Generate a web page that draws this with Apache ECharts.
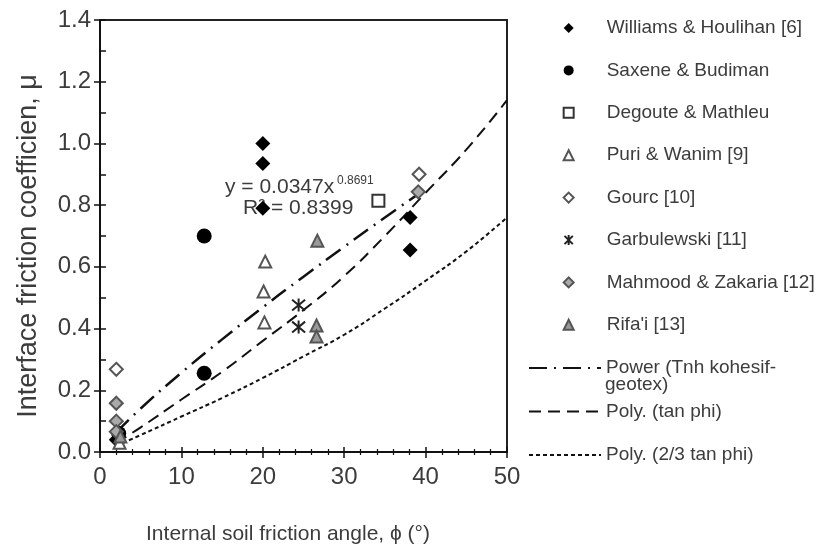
<!DOCTYPE html>
<html>
<head>
<meta charset="utf-8">
<script src="https://cdn.jsdelivr.net/npm/echarts@6/dist/echarts.min.js"></script>
<style>html,body{margin:0;padding:0;background:#fff}#c{width:821px;height:553px}</style>
</head>
<body>
<div id="c"></div>
<script>
// ---- data (x = internal friction angle, y = interface friction coefficient) ----
const williams = [[20, 1.00], [20, 0.935], [20, 0.79], [38.1, 0.76], [38.1, 0.655], [2, 0.04]];
const saxene = [[12.8, 0.70], [12.8, 0.255], [2.3, 0.06]];
const degoute = [[34.2, 0.814]];
const puri = [[20.3, 0.617], [20.1, 0.52], [20.2, 0.42], [2.4, 0.03]];
const gourc = [[2, 0.268], [39.2, 0.90]];
const garbulewski = [[24.4, 0.476], [24.4, 0.405]];
const mahmood = [[2, 0.158], [2, 0.10], [2, 0.066], [39.1, 0.843]];
const rifai = [[26.7, 0.685], [26.6, 0.41], [26.6, 0.374], [2.5, 0.05]];
// trend lines
const powerTrend = [[2, 0.063], [5, 0.141], [10, 0.257], [15, 0.365], [20, 0.469], [25, 0.568], [30, 0.665], [35, 0.760], [39, 0.834]];
const polyTan = [[2, 0.03], [5, 0.08], [10, 0.17], [15, 0.26], [20, 0.36], [25, 0.46], [30, 0.57], [35, 0.70], [40, 0.84], [45, 0.98], [50, 1.14]];
const polyTwoThird = [[2, 0.02], [5, 0.055], [10, 0.115], [15, 0.175], [20, 0.24], [25, 0.31], [30, 0.38], [35, 0.465], [40, 0.555], [45, 0.65], [50, 0.76]];
const xTicks = [0, 10, 20, 30, 40, 50];
const yTicks = [0, 0.2, 0.4, 0.6, 0.8, 1.0, 1.2, 1.4];

const names = ['Williams & Houlihan [6]', 'Saxene & Budiman', 'Degoute & Mathleu', 'Puri & Wanim [9]', 'Gourc [10]', 'Garbulewski [11]', 'Mahmood & Zakaria [12]', "Rifa'i [13]"];
const lineNames = ['Power (Tnh kohesif-geotex)', 'Poly. (tan phi)', 'Poly. (2/3 tan phi)'];

const FONT = 'Liberation Sans, Arial, sans-serif';
const TXT = '#3c3c3c';
const star = 'path://M0,0L10,10M10,0L0,10M5,-1L5,11';

function sc(name, data, symbol, size, fill, border, bw) {
  return {
    type: 'scatter', name, data, symbol, symbolSize: size, z: 5,
    itemStyle: { color: fill, borderColor: border, borderWidth: bw, opacity: 1 }
  };
}
function ln(name, data, type, width) {
  return {
    type: 'line', name, data, symbol: 'none', smooth: true, z: 3,
    itemStyle: { color: '#111' },
    lineStyle: { color: '#111', type, width }
  };
}

const chart = echarts.init(document.getElementById('c'));
const axisCommon = (min, max, interval) => ({
  type: 'value', min, max, interval,
  axisLine: { show: true, onZero: false, lineStyle: { color: '#111', width: 2 } },
  splitLine: { show: false }
});
chart.setOption({
  animation: false,
  backgroundColor: '#fff',
  grid: { left: 100, right: 314, top: 20, bottom: 101, show: true, borderColor: '#222', borderWidth: 2, backgroundColor: 'transparent' },
  xAxis: [
    Object.assign(axisCommon(0, 50, 10), {
      name: 'Internal soil friction angle, \u03d5 (\u00b0)', nameLocation: 'middle', nameGap: 72,
      nameTextStyle: { fontFamily: FONT, fontSize: 21, color: TXT, padding: [0, 31, 0, 0] },
      axisTick: { show: true, inside: false, length: 6, lineStyle: { color: '#111', width: 1.5 } },
      minorTick: { show: true, splitNumber: 5, length: 3, lineStyle: { color: '#111', width: 1.2 } },
      axisLabel: { fontFamily: FONT, fontSize: 24, color: TXT, margin: 13, formatter: v => xTicks.includes(v) ? String(v) : '' }
    }),
    Object.assign(axisCommon(0, 50, 10), {
      position: 'bottom', axisLine: { show: false },
      axisTick: { show: true, inside: true, length: 5, lineStyle: { color: '#111', width: 1.5 } },
      minorTick: { show: true, splitNumber: 5, length: 3, lineStyle: { color: '#111', width: 1.2 } },
      axisLabel: { show: false }
    })
  ],
  yAxis: [
    Object.assign(axisCommon(0, 1.4, 0.2), {
      name: 'Interface friction coefficien, \u03bc', nameLocation: 'middle', nameGap: 58,
      nameTextStyle: { fontFamily: FONT, fontSize: 27, color: TXT, padding: [0, 20, 0, 0] },
      axisTick: { show: true, inside: false, length: 6, lineStyle: { color: '#111', width: 1.5 } },
      minorTick: { show: false },
      axisLabel: { fontFamily: FONT, fontSize: 24, color: TXT, margin: 9, formatter: v => yTicks.some(t => Math.abs(t - v) < 1e-9) ? v.toFixed(1) : '' }
    }),
    Object.assign(axisCommon(0, 1.4, 0.2), {
      position: 'left', axisLine: { show: false },
      axisTick: { show: true, inside: true, length: 6, lineStyle: { color: '#111', width: 1.5 } },
      minorTick: { show: true, splitNumber: 2, length: 6, lineStyle: { color: '#111', width: 1.5 } },
      axisLabel: { show: false }
    })
  ],
  legend: [
    {
      data: names, orient: 'vertical', left: 557, top: 12,
      itemWidth: 10, itemHeight: 10, itemGap: 20.4,
      formatter: n => '{p|}' + n,
      textStyle: { fontFamily: FONT, fontSize: 19, color: TXT, lineHeight: 22, rich: { p: { width: 28 } } },
      selectedMode: false
    },
    {
      data: lineNames, orient: 'vertical', left: 523, top: 352,
      itemWidth: 72, itemHeight: 10, itemGap: 21.5,
      itemStyle: { opacity: 0 },
      formatter: n => n === lineNames[0] ? 'Power (Tnh kohesif-' : n,
      textStyle: { fontFamily: FONT, fontSize: 19, color: TXT, lineHeight: 22 },
      selectedMode: false
    }
  ],
  graphic: [
    { type: 'text', left: 605, top: 375, z: 10, style: { text: 'geotex)', font: '19px ' + FONT, fill: TXT } },
    { type: 'text', left: 225, top: 177, z: 1, style: { text: 'y = 0.0347x', font: '21px ' + FONT, fill: TXT } },
    { type: 'text', left: 337, top: 175, z: 1, style: { text: '0.8691', font: '12px ' + FONT, fill: TXT } },
    { type: 'text', left: 243, top: 198, z: 1, style: { text: 'R\u00b2 = 0.8399', font: '21px ' + FONT, fill: TXT } }
  ],
  series: [
    sc(names[0], williams, 'diamond', 15, '#000', '#000', 0),
    sc(names[1], saxene, 'circle', 15, '#000', '#000', 0),
    sc(names[2], degoute, 'rect', 12, '#fff', '#333', 2),
    sc(names[3], puri, 'triangle', 12, '#fff', '#555', 2),
    sc(names[4], gourc, 'diamond', 13, '#fff', '#555', 2),
    sc(names[5], garbulewski, star, 13, 'none', '#222', 2),
    sc(names[6], mahmood, 'diamond', 13, '#aaa', '#555', 2),
    sc(names[7], rifai, 'triangle', 12, '#999', '#555', 2),
    ln(lineNames[0], powerTrend, [18, 7, 2, 7], 2.5),
    ln(lineNames[1], polyTan, [12, 7], 2),
    ln(lineNames[2], polyTwoThird, [4, 3], 2)
  ]
});
</script>
</body>
</html>
